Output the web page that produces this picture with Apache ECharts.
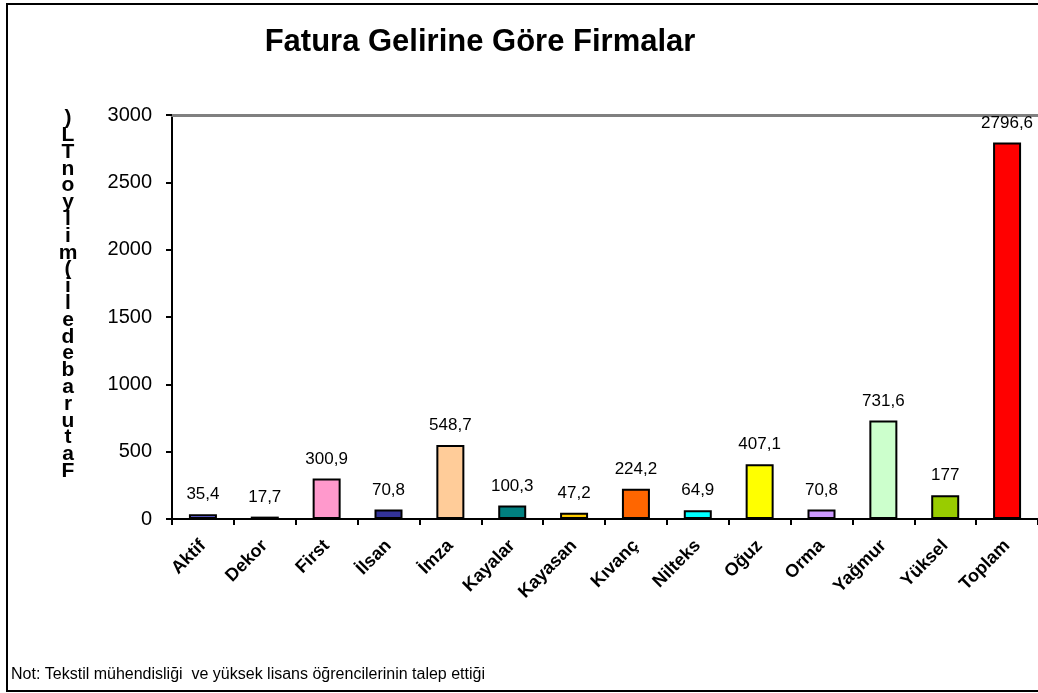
<!DOCTYPE html>
<html>
<head>
<meta charset="utf-8">
<script src="https://cdn.jsdelivr.net/npm/echarts@6/dist/echarts.min.js"></script>
<style>
html,body{margin:0;padding:0;background:#fff;}
#chart{width:1038px;height:693px;}
</style>
</head>
<body>
<div id="chart"></div>
<script>
const titleText = 'Fatura Gelirine Göre Firmalar';
const yAxisTitle = 'Faturabedeli(milyonTL)';
const noteText = 'Not: Tekstil mühendisliği  ve yüksek lisans öğrencilerinin talep ettiği';
const categories = ['Aktif','Dekor','First','İlsan','İmza','Kayalar','Kayasan','Kıvanç','Nilteks','Oğuz','Orma','Yağmur','Yüksel','Toplam'];
const values = [35.4, 17.7, 300.9, 70.8, 548.7, 100.3, 47.2, 224.2, 64.9, 407.1, 70.8, 731.6, 177, 2796.6];
const colors = ['#7070FF','#000000','#FF99CC','#333399','#FFCC99','#008080','#FFCC00','#FF6600','#00FFFF','#FFFF00','#CC99FF','#CCFFCC','#99CC00','#FF0000'];
const yTicks = [0, 500, 1000, 1500, 2000, 2500, 3000];

const FONT = 'Arial, "Liberation Sans", sans-serif';
const chart = echarts.init(document.getElementById('chart'), null, {renderer: 'canvas'});

const stacked = yAxisTitle.split('').reverse().join('\n');

chart.setOption({
  animation: false,
  backgroundColor: '#ffffff',
  title: {
    text: titleText,
    left: 475, top: 22, textAlign: 'center',
    textStyle: {fontFamily: FONT, fontWeight: 'bold', fontSize: 31, color: '#000'}
  },
  grid: {left: 172, top: 115, width: 868, bottom: 174, containLabel: false},
  xAxis: [{
    type: 'category',
    data: categories,
    position: 'bottom',
    axisLine: {lineStyle: {color: '#000', width: 2}},
    axisTick: {show: true, length: 6, lineStyle: {color: '#000', width: 2}},
    axisLabel: {rotate: 45, margin: 24, interval: 0, fontFamily: FONT, fontWeight: 'bold', fontSize: 18, color: '#000'}
  }, {
    type: 'category',
    data: categories,
    position: 'top',
    axisLine: {show: true, lineStyle: {color: '#808080', width: 3}},
    axisTick: {show: false},
    axisLabel: {show: false}
  }],
  yAxis: {
    type: 'value',
    min: yTicks[0], max: yTicks[yTicks.length - 1], interval: 500,
    axisLine: {show: true, lineStyle: {color: '#000', width: 2}},
    axisTick: {show: true, length: 6, lineStyle: {color: '#000', width: 2}},
    splitLine: {show: false},
    axisLabel: {margin: 20, fontFamily: FONT, fontSize: 20, color: '#000', formatter: v => String(v)}
  },
  series: [{
    type: 'bar',
    data: values.map((v, i) => ({value: v, itemStyle: {color: colors[i]}})),
    barWidth: 28,
    itemStyle: {borderColor: '#000', borderWidth: 2},
    label: {
      show: true, position: 'top', distance: 11,
      fontFamily: FONT, fontSize: 17, color: '#000',
      formatter: p => String(p.value).replace('.', ',')
    }
  }],
  graphic: [
    {type: 'rect', shape: {x: 7, y: 4, width: 1060, height: 687}, style: {fill: 'none', stroke: '#000', lineWidth: 2}, z: 100},
    {type: 'text', x: 68, y: 110, style: {text: stacked, fontFamily: FONT, fontWeight: 'bold', fontSize: 21, lineHeight: 16.8, fill: '#000', align: 'center', verticalAlign: 'top'}},
    {type: 'text', x: 11, y: 667, style: {text: noteText, fontFamily: FONT, fontSize: 16, fill: '#000'}}
  ]
});
</script>
</body>
</html>
